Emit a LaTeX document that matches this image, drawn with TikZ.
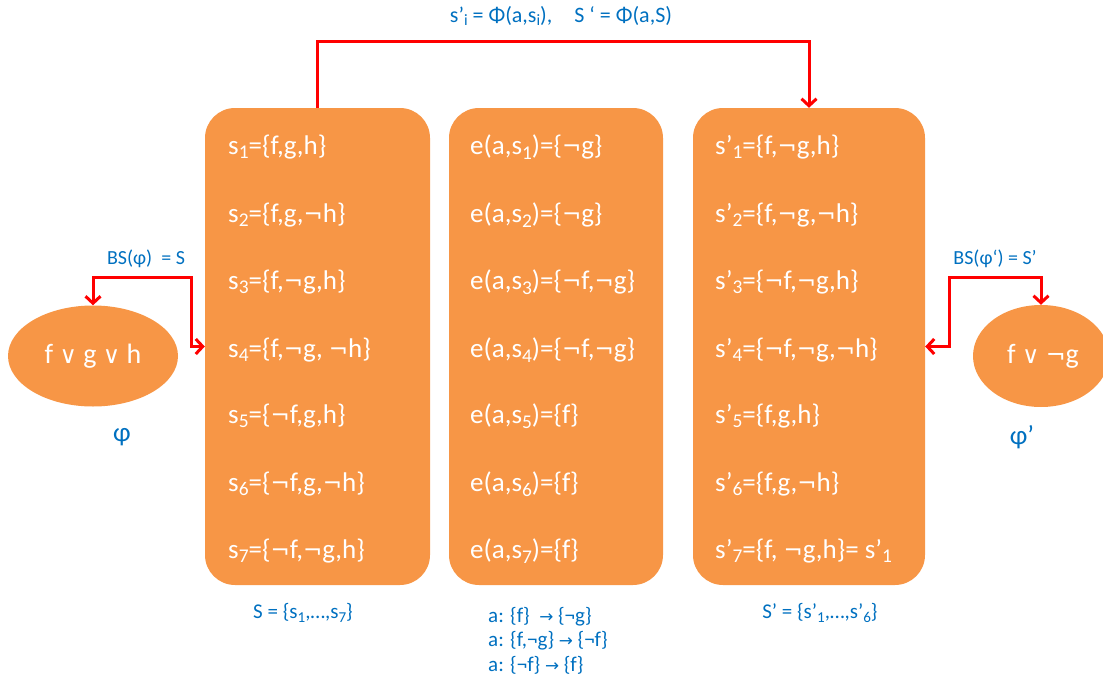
\documentclass[tikz,border=0pt]{standalone}
\usepackage{fontspec}
\setmainfont{Carlito}
\newfontfamily\dv{DejaVu Sans}
\usetikzlibrary{arrows.meta,shapes.geometric}
\definecolor{orng}{HTML}{F79646}
\definecolor{blu}{HTML}{0070C0}
\definecolor{rd}{HTML}{FF0000}
\newcommand\sbs[1]{\raisebox{-0.35ex}{\scalebox{0.72}{#1}}}
\newcommand\Or{{\dv\scalebox{0.85}{∨}}}
\newcommand\Ar{{\dv\scalebox{0.8}{→}}}
\newcommand\Ng{{\dv\scalebox{0.85}{¬}}}
\newcommand\smallneg{¬}
\begin{document}
\begin{tikzpicture}[x=1pt,y=-1pt,
  panel/.style={fill=orng, draw=none, rounded corners=30pt, inner sep=0pt},
  blob/.style={ellipse, fill=orng, draw=none, inner sep=0pt, text=white, font=\fontsize{28}{32}\selectfont},
  item/.style={text=white, anchor=west, inner sep=0pt, font=\fontsize{27}{31}\selectfont},
  lbl/.style={text=blu, inner sep=0pt, font=\fontsize{21}{24}\selectfont},
  big/.style={text=blu, inner sep=0pt, font=\fontsize{27}{31}\selectfont},
  barb/.tip={Straight Barb[length=7pt,width=15pt,line width=3pt]},
  link/.style={draw=rd, line width=3pt, -{barb}},
  link2/.style={draw=rd, line width=3pt, {barb}-{barb}}
]
\useasboundingbox (0,0) rectangle (1103,685);

\node[panel, minimum width=225pt, minimum height=477pt] (b1) at (317.5,346.5) {};
\node[panel, minimum width=214pt, minimum height=477pt] (b2) at (556,346.5) {};
\node[panel, minimum width=232pt, minimum height=477pt] (b3) at (809,346.5) {};

\node[blob, minimum width=170pt, minimum height=101pt] (e1) at (93,356) {f \Or{} g \Or{} h};
\node[blob, minimum width=136pt, minimum height=102pt] (e2) at (1041,356) {\hspace*{4pt}f \Or{} \Ng{}g};

% box 1
\node[item] (s1) at (228,147) {s\sbs{1}=\{f,g,h\}};
\node[item] (s2) at (228,215) {s\sbs{2}=\{f,g,\Ng{}h\}};
\node[item] (s3) at (228,282) {s\sbs{3}=\{f,\Ng{}g,h\}};
\node[item] (s4) at (228,350) {s\sbs{4}=\{f,\Ng{}g, \Ng{}h\}};
\node[item] (s5) at (228,416) {s\sbs{5}=\{\Ng{}f,g,h\}};
\node[item] (s6) at (228,484) {s\sbs{6}=\{\Ng{}f,g,\Ng{}h\}};
\node[item] (s7) at (228,551) {s\sbs{7}=\{\Ng{}f,\Ng{}g,h\}};
% box 2
\node[item] (r1) at (470,147) {e(a,s\sbs{1})=\{\Ng{}g\}};
\node[item] (r2) at (470,215) {e(a,s\sbs{2})=\{\Ng{}g\}};
\node[item] (r3) at (470,282) {e(a,s\sbs{3})=\{\Ng{}f,\Ng{}g\}};
\node[item] (r4) at (470,350) {e(a,s\sbs{4})=\{\Ng{}f,\Ng{}g\}};
\node[item] (r5) at (470,416) {e(a,s\sbs{5})=\{f\}};
\node[item] (r6) at (470,484) {e(a,s\sbs{6})=\{f\}};
\node[item] (r7) at (470,551) {e(a,s\sbs{7})=\{f\}};
% box 3
\node[item] (t1) at (715,147) {s’\sbs{1}=\{f,\Ng{}g,h\}};
\node[item] (t2) at (715,215) {s’\sbs{2}=\{f,\Ng{}g,\Ng{}h\}};
\node[item] (t3) at (715,282) {s’\sbs{3}=\{\Ng{}f,\Ng{}g,h\}};
\node[item] (t4) at (715,350) {s’\sbs{4}=\{\Ng{}f,\Ng{}g,\Ng{}h\}};
\node[item] (t5) at (715,416) {s’\sbs{5}=\{f,g,h\}};
\node[item] (t6) at (715,484) {s’\sbs{6}=\{f,g,\Ng{}h\}};
\node[item] (t7) at (715,551) {s’\sbs{7}=\{f, \Ng{}g,h\}= s’\sbs{1}};

% labels
\node[lbl, font=\fontsize{22}{25}\selectfont] (top) at (561,16) {s’\sbs{i} = Φ(a,s\sbs{i}),\quad S ‘ = Φ(a,S)};
\node[lbl, font=\fontsize{20}{24}\selectfont] (bsl) at (146,259) {BS(φ) \ = S};
\node[lbl, font=\fontsize{20}{24}\selectfont] (bsr) at (995,259) {BS(φ‘) = S’};
\node[big] (phi) at (122,437) {φ};
\node[big] (phip) at (1022,437) {φ’};
\node[lbl] (setS) at (303,613) {S = \{s\sbs{1},…,s\sbs{7}\}};
\node[lbl] (setSp) at (820,613) {S’ = \{s’\sbs{1},…,s’\sbs{6}\}};
\node[lbl, anchor=west] (a1) at (488,617) {a: \{f\} \ \Ar{} \{\smallneg{}g\}};
\node[lbl, anchor=west] (a2) at (488,641) {a: \{f,\smallneg{}g\} \Ar{} \{\smallneg{}f\}};
\node[lbl, anchor=west] (a3) at (488,665) {a: \{\smallneg{}f\} \Ar{} \{f\}};

% connectors
\draw[link] (b1.north) -- ++(0,-66) -| (b3.north);
\draw[link2] (e1.north) |- (191,277) |- (b1.west);
\draw[link2] (e2.north) |- (949,277) |- (b3.east);
\end{tikzpicture}
\end{document}
